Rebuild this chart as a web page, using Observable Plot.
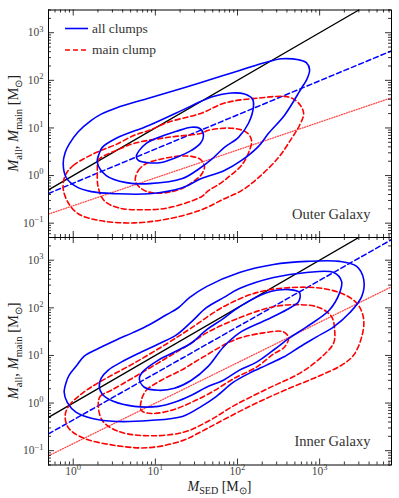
<!DOCTYPE html>
<html><head><meta charset="utf-8">
<script src="https://cdn.jsdelivr.net/npm/d3@7"></script>
<script src="https://cdn.jsdelivr.net/npm/@observablehq/plot@0.6"></script>
<style>
body{margin:0;background:#fff;}
#chart{width:399px;}
#chart svg{display:block;}
</style></head><body><div id="chart"></div>
<script>
// ---- Data: contours as [log10 M_SED, log10 M] ----
// Outer Galaxy, all clumps (blue solid), three levels
const outerAll1 = [[-0.122,0.254],[-0.098,0.486],[-0.049,0.660],[0.061,0.920],[0.220,1.160],[0.341,1.290],[0.524,1.420],[0.927,1.630],[1.256,1.797],[1.537,1.945],[1.927,2.156],[2.329,2.368],[2.537,2.452],[2.744,2.431],[2.841,2.368],[2.878,2.220],[2.841,2.008],[2.780,1.839],[2.573,1.268],[2.378,0.888],[2.256,0.613],[2.049,0.317],[1.841,0.106],[1.561,-0.063],[1.329,-0.254],[0.927,-0.381],[0.524,-0.381],[0.220,-0.338],[0.037,-0.233],[-0.085,-0.042]];
const outerAll2 = [[0.293,0.275],[0.317,0.465],[0.354,0.592],[0.524,0.782],[0.927,1.057],[1.329,1.374],[1.537,1.543],[1.683,1.649],[1.927,1.734],[2.085,1.712],[2.183,1.607],[2.195,1.459],[2.134,1.099],[2.012,0.803],[1.841,0.592],[1.683,0.338],[1.537,0.148],[1.329,-0.063],[0.927,-0.169],[0.646,-0.148],[0.402,0.000]];
const outerAll3 = [[0.768,0.402],[0.805,0.529],[0.890,0.677],[1.012,0.782],[1.256,0.930],[1.439,1.015],[1.537,0.994],[1.585,0.867],[1.549,0.677],[1.439,0.529],[1.256,0.381],[1.073,0.275],[0.890,0.275],[0.793,0.317]];
// Outer Galaxy, main clump (red dashed)
const outerMain1 = [[-0.098,0.000],[0.000,0.211],[0.159,0.381],[0.341,0.529],[0.524,0.655],[0.744,0.846],[0.927,0.951],[1.159,1.121],[1.561,1.311],[1.841,1.522],[2.256,1.628],[2.622,1.649],[2.744,1.522],[2.805,1.311],[2.756,1.057],[2.659,0.782],[2.500,0.381],[2.256,-0.042],[2.049,-0.317],[1.841,-0.486],[1.561,-0.719],[1.159,-0.909],[0.744,-0.994],[0.341,-0.951],[0.061,-0.803],[-0.061,-0.571],[-0.122,-0.275]];
const outerMain2 = [[0.293,0.063],[0.305,0.317],[0.341,0.381],[0.524,0.529],[0.744,0.677],[1.159,0.803],[1.561,0.888],[1.646,0.951],[1.927,0.994],[2.110,0.909],[2.171,0.740],[2.146,0.529],[2.049,0.211],[1.927,0.021],[1.805,-0.148],[1.646,-0.317],[1.561,-0.444],[1.159,-0.677],[0.829,-0.719],[0.549,-0.677],[0.378,-0.529],[0.305,-0.254]];
const outerMain3 = [[0.756,-0.106],[0.793,0.106],[0.890,0.254],[1.049,0.338],[1.256,0.402],[1.439,0.402],[1.549,0.338],[1.598,0.190],[1.561,0.021],[1.463,-0.127],[1.317,-0.275],[1.134,-0.359],[0.951,-0.359],[0.829,-0.275]];
// Inner Galaxy, all clumps (blue solid)
const innerAll1 = [[-0.110,0.226],[-0.085,0.438],[-0.049,0.586],[0.037,0.776],[0.134,0.987],[0.317,1.156],[0.524,1.326],[0.720,1.474],[0.927,1.643],[1.134,1.854],[1.280,2.002],[1.415,2.214],[1.622,2.446],[2.024,2.742],[2.439,2.911],[2.841,2.975],[3.244,2.975],[3.451,2.869],[3.537,2.594],[3.512,2.235],[3.366,1.896],[3.171,1.600],[2.963,1.389],[2.756,1.178],[2.561,0.966],[2.354,0.797],[2.146,0.628],[1.951,0.438],[1.744,0.142],[1.561,-0.070],[1.329,-0.281],[0.927,-0.366],[0.524,-0.387],[0.232,-0.323],[0.037,-0.197],[-0.073,0.015]];
const innerAll2 = [[0.317,0.353],[0.341,0.522],[0.427,0.691],[0.585,0.860],[0.829,1.072],[1.037,1.241],[1.256,1.431],[1.439,1.706],[1.622,2.002],[1.829,2.214],[2.024,2.404],[2.439,2.636],[2.841,2.742],[3.171,2.742],[3.268,2.552],[3.244,2.319],[3.122,1.960],[2.841,1.600],[2.634,1.368],[2.439,1.114],[2.232,0.860],[2.024,0.691],[1.829,0.480],[1.622,0.332],[1.439,0.163],[1.232,0.015],[1.037,-0.070],[0.744,-0.070],[0.488,0.036],[0.354,0.184]];
const innerAll3 = [[0.805,0.522],[0.854,0.670],[1.037,0.903],[1.232,1.072],[1.439,1.262],[1.622,1.537],[1.805,1.748],[2.024,2.023],[2.354,2.319],[2.634,2.383],[2.756,2.319],[2.744,2.129],[2.598,1.960],[2.354,1.748],[2.024,1.474],[1.829,1.178],[1.646,0.776],[1.439,0.480],[1.232,0.311],[1.037,0.268],[0.866,0.332]];
// Inner Galaxy, main clump (red dashed)
const innerMain1 = [[-0.098,-0.260],[-0.049,-0.049],[0.110,0.205],[0.317,0.438],[0.720,0.818],[1.134,1.241],[1.439,1.579],[1.829,2.023],[2.232,2.319],[2.634,2.425],[3.049,2.404],[3.329,2.256],[3.476,2.044],[3.537,1.748],[3.512,1.389],[3.415,1.008],[3.268,0.797],[2.988,0.565],[2.573,0.268],[2.171,-0.049],[1.768,-0.408],[1.561,-0.598],[1.329,-0.789],[0.927,-0.937],[0.524,-0.894],[0.110,-0.725],[-0.061,-0.514]];
const innerMain2 = [[0.305,-0.049],[0.329,0.142],[0.463,0.268],[0.720,0.522],[1.134,0.945],[1.439,1.262],[1.622,1.474],[2.024,1.791],[2.439,2.023],[2.756,2.066],[3.000,2.002],[3.146,1.812],[3.183,1.537],[3.171,1.262],[3.049,1.008],[2.780,0.649],[2.378,0.311],[1.963,-0.049],[1.659,-0.366],[1.329,-0.619],[0.841,-0.683],[0.524,-0.577],[0.354,-0.366]];
const innerMain3 = [[0.829,0.057],[0.890,0.268],[1.073,0.480],[1.317,0.691],[1.561,0.945],[1.963,1.326],[2.317,1.474],[2.561,1.495],[2.622,1.368],[2.573,1.178],[2.439,1.030],[2.232,0.755],[1.963,0.522],[1.683,0.226],[1.439,0.015],[1.195,-0.154],[0.951,-0.218],[0.829,-0.154]];
// Straight reference/fit lines: [M_SED, M] end points
const oneToOne = [[0.5, 0.5], [3000, 3000]];
const outerFitAll = [[0.5, 0.42], [7500, 415]];
const outerFitMain = [[0.5, 0.155], [7500, 43]];
const innerFitAll = [[0.5, 0.225], [7500, 2700]];
const innerFitMain = [[0.5, 0.078], [7500, 276]];
// Axis
const xDomain = [0.5, 7500];
const yDomain = [0.05, 3000];
const xMajor = [1, 10, 100, 1000];
const yMajor = [0.1, 1, 10, 100, 1000];
const panelNames = ["Outer Galaxy", "Inner Galaxy"];
const legendNames = ["all clumps", "main clump"];

// ---- layout ----
const W = 399, ML = 48, MR = 8, IH = 227.5, IW = W - ML - MR;
const FONT = "Liberation Serif, Times New Roman, serif";
const BLUE = "#0000ff", RED = "#ff0000", DOT = "#ff4a4a";

function minorTicks(domain) {
  const out = [];
  for (let k = -2; k <= 4; k++) for (let m = 2; m <= 9; m++) {
    const v = +(m * Math.pow(10, k)).toPrecision(6);
    if (v >= domain[0] * 0.999 && v <= domain[1] * 1.001) out.push(v);
  }
  return out;
}
const xMinor = minorTicks(xDomain), yMinor = minorTicks(yDomain);

function makePanel({contours, fits, name, mTop, mBottom, showX}) {
  const H = mTop + IH + mBottom;
  const toPts = arr => arr.map(([lx, ly]) => ({x: Math.pow(10, lx), y: Math.pow(10, ly)}));
  const marks = [];
  for (const f of fits) {
    marks.push(Plot.line(f.data, {x: d => d[0], y: d => d[1], stroke: f.color, strokeWidth: f.width, strokeDasharray: f.dash, clip: true}));
  }
  for (const c of contours) {
    marks.push(Plot.line(toPts(c.data), {x: "x", y: "y", curve: "catmull-rom-closed", stroke: c.color, strokeWidth: 1.6, strokeDasharray: c.dash, clip: true}));
  }
  const tk = (vals, len) => [
    Plot.tickX(vals, {x: d => d, insetTop: IH - len, stroke: "#000", strokeWidth: 0.8}),
    Plot.tickX(vals, {x: d => d, insetBottom: IH - len, stroke: "#000", strokeWidth: 0.8})
  ];
  const tky = (vals, len) => [
    Plot.tickY(vals, {y: d => d, insetRight: IW - len, stroke: "#000", strokeWidth: 0.8}),
    Plot.tickY(vals, {y: d => d, insetLeft: IW - len, stroke: "#000", strokeWidth: 0.8})
  ];
  marks.push(...tk(xMajor, 6), ...tk(xMinor, 3), ...tky(yMajor, 6), ...tky(yMinor, 3));
  marks.push(Plot.frame({stroke: "#000", strokeWidth: 1}));
  marks.push(Plot.text(yMajor, {y: d => d, frameAnchor: "left", dx: -5, textAnchor: "end", text: d => String(Math.round(Math.log10(d))), fontSize: 11.5, fontFamily: FONT, fill: "#444"}));
  if (showX) marks.push(Plot.text(xMajor, {x: d => d, frameAnchor: "bottom", dy: 10, text: d => String(Math.round(Math.log10(d))), fontSize: 11.5, fontFamily: FONT, fill: "#444"}));
  marks.push(Plot.text([name], {frameAnchor: "bottom-right", dx: -21, dy: -19, text: d => d, fontSize: 14.5, fontFamily: FONT, fill: "#333", textAnchor: "end"}));
  const svg = Plot.plot({
    width: W, height: H, marginLeft: ML, marginRight: MR, marginTop: mTop, marginBottom: mBottom,
    x: {type: "log", domain: xDomain, axis: null},
    y: {type: "log", domain: yDomain, axis: null},
    style: {fontFamily: FONT, background: "white", overflow: "visible"},
    marks
  });
  // turn exponent-only tick labels into 10^k with a superscript
  const ns = "http://www.w3.org/2000/svg";
  svg.querySelectorAll("text").forEach(t => {
    if (!/^-?\d$/.test(t.textContent)) return;
    const e = t.textContent.replace("-", "\u2212");
    t.textContent = "";
    const a = document.createElementNS(ns, "tspan"); a.textContent = "10"; t.appendChild(a);
    const b = document.createElementNS(ns, "tspan"); b.setAttribute("dy", "-4.8"); b.setAttribute("font-size", "8.5"); b.textContent = e; t.appendChild(b);
  });
  return svg;
}

function richText(sel, parts, fs) {
  let cur = 0;
  for (const [s, kind] of parts) {
    const want = kind === "sub" ? fs * 0.28 : 0;
    const tsp = sel.append("tspan").text(s);
    if (want !== cur) tsp.attr("dy", want - cur);
    cur = want;
    if (kind === "i") tsp.attr("font-style", "italic");
    if (kind === "sub") tsp.attr("font-size", fs * 0.72);
  }
}
const yLabelParts = [["M","i"],["all","sub"],[", ",""],["M","i"],["main","sub"],[" [M",""],["\u2299","sub"],["]",""]];
const xLabelParts = [["M","i"],["SED","sub"],[" [M",""],["\u2299","sub"],["]",""]];

const topSvg = makePanel({
  contours: [
    {data: outerMain1, color: RED, dash: "5,3"}, {data: outerMain2, color: RED, dash: "5,3"}, {data: outerMain3, color: RED, dash: "5,3"},
    {data: outerAll1, color: BLUE}, {data: outerAll2, color: BLUE}, {data: outerAll3, color: BLUE}
  ],
  fits: [
    {data: oneToOne, color: "#000", width: 1.4},
    {data: outerFitAll, color: BLUE, width: 1.5, dash: "5,3"},
    {data: outerFitMain, color: DOT, width: 1.3, dash: "1,1.6"}
  ],
  name: panelNames[0], mTop: 9.5, mBottom: 0, showX: false
});
const botSvg = makePanel({
  contours: [
    {data: innerMain1, color: RED, dash: "5,3"}, {data: innerMain2, color: RED, dash: "5,3"}, {data: innerMain3, color: RED, dash: "5,3"},
    {data: innerAll1, color: BLUE}, {data: innerAll2, color: BLUE}, {data: innerAll3, color: BLUE}
  ],
  fits: [
    {data: oneToOne, color: "#000", width: 1.4},
    {data: innerFitAll, color: BLUE, width: 1.5, dash: "5,3"},
    {data: innerFitMain, color: DOT, width: 1.3, dash: "1,1.6"}
  ],
  name: panelNames[1], mTop: 0, mBottom: 33.5, showX: true
});

for (const [svg, cy] of [[topSvg, 9.5 + IH / 2], [botSvg, IH / 2]]) {
  const t = d3.select(svg).append("text").attr("transform", `translate(18,${cy}) rotate(-90)`)
    .attr("text-anchor", "middle").attr("font-size", 14.5).attr("fill", "#222").attr("font-family", FONT);
  richText(t, yLabelParts, 14.5);
}
{
  const t = d3.select(botSvg).append("text").attr("x", ML + IW / 2).attr("y", IH + 26)
    .attr("text-anchor", "middle").attr("font-size", 14).attr("fill", "#222").attr("font-family", FONT);
  richText(t, xLabelParts, 14);
}
{
  const g = d3.select(topSvg).append("g").attr("font-family", FONT).attr("font-size", 13.5).attr("fill", "#333").attr("text-anchor", "start");
  g.append("line").attr("x1", 65).attr("x2", 88).attr("y1", 28.5).attr("y2", 28.5).attr("stroke", BLUE).attr("stroke-width", 1.6);
  g.append("text").attr("x", 92).attr("y", 28.5).attr("dy", "0.32em").text(legendNames[0]);
  g.append("line").attr("x1", 65).attr("x2", 88).attr("y1", 50).attr("y2", 50).attr("stroke", RED).attr("stroke-width", 1.6).attr("stroke-dasharray", "5,3");
  g.append("text").attr("x", 92).attr("y", 50).attr("dy", "0.32em").text(legendNames[1]);
}
document.getElementById("chart").append(topSvg, botSvg);
</script>
</body></html>
